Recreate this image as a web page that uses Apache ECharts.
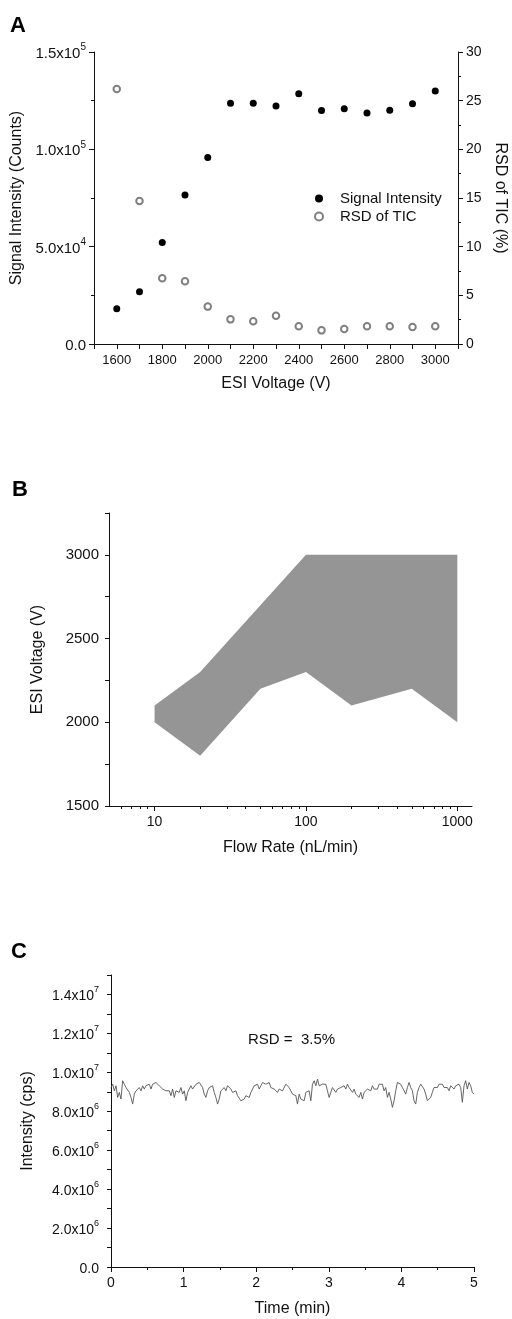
<!DOCTYPE html>
<html><head><meta charset="utf-8">
<script src="https://cdn.jsdelivr.net/npm/echarts@6/dist/echarts.min.js"></script>
<style>html,body{margin:0;padding:0;background:#fff}#c{width:512px;height:1319px}</style>
</head><body><div id="c"></div>
<script>
// ---- Panel A data ----
const voltages = [1600, 1700, 1800, 1900, 2000, 2100, 2200, 2300, 2400, 2500, 2600, 2700, 2800, 2900, 3000];
const signalIntensity = [18100, 26900, 52100, 76600, 95800, 123700, 123700, 122200, 128500, 119900, 120800, 118700, 120100, 123400, 130000];
const rsdTIC = [26.2, 14.7, 6.75, 6.44, 3.84, 2.53, 2.33, 2.91, 1.82, 1.40, 1.54, 1.82, 1.82, 1.75, 1.82];

// ---- Panel B data (stable spray region) ----
const upperFlow = [10, 20, 100, 1000];
const upperVoltage = [2100, 2300, 3000, 3000];
const lowerFlow = [10, 20, 50, 100, 200, 500, 1000];
const lowerVoltage = [2000, 1800, 2200, 2300, 2100, 2200, 2000];
const flowMajorTicks = [10, 100, 1000];
const flowMinorTicks = [6, 7, 8, 9, 20, 30, 40, 50, 60, 70, 80, 90, 200, 300, 400, 500, 600, 700, 800, 900];

// ---- Panel C data (TIC trace, x1e6 cps, evenly sampled over 5 min) ----
const traceDurationMin = 5;
const traceIntensityMillions = [
9.22,9.39,9.05,9.31,8.71,8.97,8.63,9.57,9.39,9.22,
9.31,8.97,8.71,8.37,8.88,9.05,9.14,9.22,9.05,9.31,
9.14,9.31,9.22,9.39,9.14,9.39,9.31,9.48,9.57,9.31,
9.22,9.14,9.14,9.05,8.97,9.05,8.80,9.14,8.71,9.05,
9.14,8.97,9.22,8.88,9.05,8.54,8.97,8.88,9.31,9.14,
9.22,9.39,9.31,9.48,9.39,9.22,8.88,8.71,9.05,9.22,
9.14,9.31,8.97,8.71,8.37,8.63,9.05,9.14,9.22,9.05,
9.31,9.39,9.14,8.97,8.88,9.05,8.80,8.71,8.54,8.63,
8.63,8.80,8.88,8.71,8.97,9.14,9.31,9.22,9.39,9.14,
9.31,9.48,9.57,9.39,9.31,9.48,9.22,9.31,9.14,9.05,
8.97,9.14,9.22,9.05,9.14,9.39,9.48,9.22,9.14,8.88,
8.97,8.80,8.37,8.88,8.63,8.71,8.54,
8.97,8.88,9.05,8.54,9.39,9.57,9.31,9.65,9.31,9.22,
9.39,9.31,9.39,9.05,8.71,8.97,9.22,9.31,8.97,9.14,
9.05,9.22,9.14,9.31,9.14,9.39,9.22,9.14,8.97,9.14,
8.88,8.97,8.71,8.97,8.63,8.97,8.88,9.14,9.22,9.05,
9.31,9.14,9.22,9.14,9.39,9.31,9.39,9.05,9.22,8.71,
8.97,8.63,8.20,8.54,9.05,9.48,9.57,9.39,9.22,9.05,
8.88,9.22,9.48,9.22,9.05,8.54,8.37,8.97,9.22,9.39,
9.48,9.14,8.88,8.54,8.46,8.71,8.97,9.22,9.14,9.22,
9.39,9.31,9.39,9.22,9.31,9.22,9.05,9.31,9.22,9.14,
9.31,9.22,9.39,9.22,8.46,9.31,9.57,9.14,9.48,9.31,
8.97,8.88
];

const FONT = "'Liberation Sans', Arial, sans-serif";
const INK = '#111';

function sci(v) {
  if (Math.abs(v) < 1e-9) return '{m|0.0}';
  const e = Math.floor(Math.log10(v) + 1e-9);
  const m = (v / Math.pow(10, e)).toFixed(1);
  return '{m|' + m + 'x10}{s|' + e + '}';
}
function richSci(size) {
  return {
    m: { fontSize: size, fontFamily: FONT, color: INK, lineHeight: size + 4, verticalAlign: 'bottom' },
    s: { fontSize: Math.round(size * 0.66), fontFamily: FONT, color: INK, lineHeight: 9, verticalAlign: 'top' }
  };
}
const line = { show: true, lineStyle: { color: INK, width: 1 } };
function tick(len, inside) { return { show: true, length: len, inside: !!inside, lineStyle: { color: INK, width: 1 } }; }
function minor(n) { return { show: true, splitNumber: n, length: 3, lineStyle: { color: INK, width: 1 } }; }
const nameStyle = { fontSize: 16, fontFamily: FONT, color: INK };

const traceData = traceIntensityMillions.map((v, i) => [i * traceDurationMin / (traceIntensityMillions.length - 1), v * 1e6]);

const chart = echarts.init(document.getElementById('c'), null, { renderer: 'canvas' });
chart.setOption({
  backgroundColor: '#fff',
  animation: false,
  textStyle: { fontFamily: FONT },
  grid: [
    { left: 94, top: 52, width: 364, height: 292, containLabel: false, outerBoundsMode: 'none' },
    { left: 109, top: 513, width: 363, height: 293, containLabel: false, outerBoundsMode: 'none' },
    { left: 111, top: 975, width: 363, height: 292, containLabel: false, outerBoundsMode: 'none' }
  ],
  legend: {
    data: ['Signal Intensity', 'RSD of TIC'],
    orient: 'vertical', left: 309, top: 186, itemWidth: 8, itemHeight: 8, itemGap: 3,
    textStyle: { fontSize: 15, fontFamily: FONT, color: INK, padding: [0, 0, 0, 12] }
  },
  xAxis: [
    { gridIndex: 0, type: 'value', position: 'bottom', min: 1500, max: 3100, interval: 100,
      axisLine: line, axisTick: tick(5), splitLine: { show: false },
      axisLabel: { fontSize: 13, color: INK, margin: 10,
        formatter: v => (v % 200 === 0 && v >= 1600 && v <= 3000) ? String(v) : '' },
      name: 'ESI Voltage (V)', nameLocation: 'middle', nameGap: 32, nameTextStyle: nameStyle },
    { gridIndex: 0, type: 'value', position: 'top', min: 1500, max: 3100, interval: 100,
      axisLine: line, axisTick: tick(5, true), axisLabel: { show: false }, splitLine: { show: false } },
    { gridIndex: 1, type: 'log', logBase: 10, position: 'bottom', min: 5, max: 1250,
      axisLine: line, splitLine: { show: false },
      axisTick: Object.assign(tick(5), { customValues: flowMajorTicks }),
      axisLabel: { fontSize: 14, color: INK, margin: 9, customValues: flowMajorTicks, formatter: v => String(Math.round(v)) },
      name: 'Flow Rate (nL/min)', nameLocation: 'middle', nameGap: 34, nameTextStyle: nameStyle },
    { gridIndex: 1, type: 'log', logBase: 10, position: 'bottom', min: 5, max: 1250,
      axisLine: { show: false }, splitLine: { show: false }, axisLabel: { show: false },
      axisTick: Object.assign(tick(3), { customValues: flowMinorTicks }) },
    { gridIndex: 2, type: 'value', position: 'bottom', min: 0, max: 5, interval: 1,
      axisLine: line, axisTick: tick(5), minorTick: minor(2), splitLine: { show: false },
      axisLabel: { fontSize: 14, color: INK, margin: 9 },
      name: 'Time (min)', nameLocation: 'middle', nameGap: 34, nameTextStyle: nameStyle }
  ],
  yAxis: [
    { gridIndex: 0, type: 'value', position: 'left', min: 0, max: 150000, interval: 50000,
      axisLine: line, axisTick: tick(5), minorTick: minor(2), splitLine: { show: false },
      axisLabel: { margin: 8, formatter: sci, rich: richSci(15) },
      name: 'Signal Intensity (Counts)', nameLocation: 'middle', nameGap: 65, nameTextStyle: nameStyle },
    { gridIndex: 0, type: 'value', position: 'right', min: 0, max: 30, interval: 5,
      axisLine: line, axisTick: tick(5), minorTick: minor(2), splitLine: { show: false },
      axisLabel: { fontSize: 14, color: INK, margin: 8 },
      name: 'RSD of TIC (%)', nameLocation: 'middle', nameGap: 32, nameRotate: -90, nameTextStyle: nameStyle },
    { gridIndex: 1, type: 'value', position: 'left', min: 1500, max: 3250, interval: 250,
      axisLine: line, axisTick: tick(4), splitLine: { show: false },
      axisLabel: { fontSize: 15, color: INK, margin: 10,
        formatter: v => (v % 500 === 0 && v <= 3000) ? String(v) : '' },
      name: 'ESI Voltage (V)', nameLocation: 'middle', nameGap: 63, nameTextStyle: nameStyle },
    { gridIndex: 2, type: 'value', position: 'left', min: 0, max: 15000000, interval: 1000000,
      axisLine: line, axisTick: tick(4), splitLine: { show: false },
      axisLabel: { margin: 12, rich: richSci(14),
        formatter: v => { const k = Math.round(v / 1e6); return (k % 2 === 0 && k <= 14) ? sci(v) : ''; } },
      name: 'Intensity (cps)', nameLocation: 'middle', nameGap: 75, nameTextStyle: nameStyle }
  ],
  series: [
    { name: 'Signal Intensity', type: 'scatter', xAxisIndex: 0, yAxisIndex: 0,
      symbol: 'circle', symbolSize: 7, itemStyle: { color: '#000', opacity: 1 },
      data: voltages.map((v, i) => [v, signalIntensity[i]]) },
    { name: 'RSD of TIC', type: 'scatter', xAxisIndex: 0, yAxisIndex: 1,
      symbol: 'emptyCircle', symbolSize: 6.5, itemStyle: { color: '#808080', borderWidth: 1, opacity: 1 },
      data: voltages.map((v, i) => [v, rsdTIC[i]]) },
    { name: 'Stable region', type: 'custom', xAxisIndex: 2, yAxisIndex: 2,
      data: [[upperFlow[0], lowerVoltage[0]]], encode: { x: 0, y: 1 },
      renderItem: function (params, api) {
        const pts = [];
        for (let i = 0; i < upperFlow.length; i++) pts.push(api.coord([upperFlow[i], upperVoltage[i]]));
        for (let i = lowerFlow.length - 1; i >= 0; i--) pts.push(api.coord([lowerFlow[i], lowerVoltage[i]]));
        return { type: 'polygon', shape: { points: pts }, style: { fill: '#959595' } };
      } },
    { name: 'TIC', type: 'line', xAxisIndex: 4, yAxisIndex: 3, showSymbol: false,
      lineStyle: { color: '#555', width: 0.9 }, data: traceData }
  ],
  graphic: [
    { type: 'text', left: 10, top: 15, style: { text: 'A', font: 'bold 22px ' + FONT, fill: '#000' } },
    { type: 'text', left: 12, top: 479, style: { text: 'B', font: 'bold 22px ' + FONT, fill: '#000' } },
    { type: 'text', left: 11, top: 941, style: { text: 'C', font: 'bold 22px ' + FONT, fill: '#000' } },
    { type: 'text', left: 248, top: 1032, style: { text: 'RSD =  3.5%', font: '15px ' + FONT, fill: INK } }
  ]
});
</script></body></html>
